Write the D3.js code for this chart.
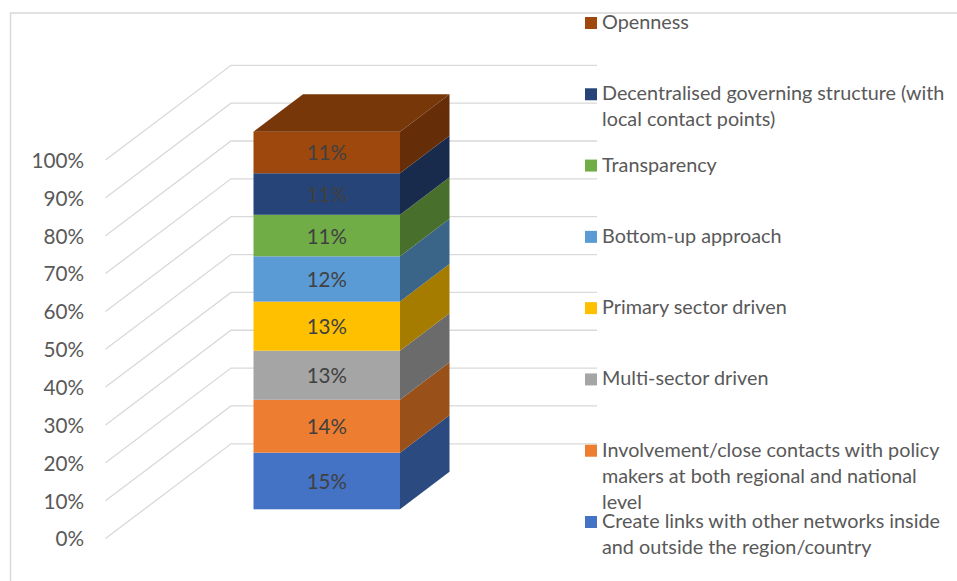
<!DOCTYPE html>
<html>
<head>
<meta charset="utf-8">
<script src="https://cdn.jsdelivr.net/npm/d3@7/dist/d3.min.js"></script>
<style>
html,body{margin:0;padding:0;background:#fff;overflow:hidden}
svg{display:block}
text{font-family:Lato,"Open Sans",sans-serif}
</style>
</head>
<body>
<div id="chart"></div>
<script>
// values bottom to top
var names=["Create links","Involvement","Multi-sector","Primary sector","Bottom-up","Transparency","Decentralised","Openness"];
var values=[15,14,13,13,12,11,11,11];
var front=["#4472c4","#ed7d31","#a5a5a5","#ffc000","#5b9bd5","#70ad47","#264478","#9e480e"];
var side=["#2a4a80","#9a5119","#6b6b6b","#a67c00","#3b6489","#486f2c","#182b4d","#652e08"];
var topColor="#773709";
var ticks=[0,10,20,30,40,50,60,70,80,90,100];
// legend text, top to bottom
var legendLines=[
  ["Openness"],
  ["Decentralised governing structure (with","local contact points)"],
  ["Transparency"],
  ["Bottom-up approach"],
  ["Primary sector driven"],
  ["Multi-sector driven"],
  ["Involvement/close contacts with policy","makers at both regional and national","level"],
  ["Create links with other networks inside","and outside the region/country"]
];
var legendColors=front.slice().reverse();

var width=957,height=581;
var svg=d3.select("#chart").append("svg").attr("width",width).attr("height",height);

// frame, only left and top show
svg.append("path")
  .attr("d","M10.5,581V13H957")
  .attr("fill","none").attr("stroke","#d9d9d9").attr("stroke-width",1.5);

// walls of the chart
var yAxis=d3.scaleLinear().domain([0,100]).range([538.5,160]);
var wallX=105.5,wallDx=125.5,wallDy=-94.7,wallEnd=597;

svg.append("g").selectAll("path")
  .data(ticks)
  .enter().append("path")
  .attr("d",function(d){
    var y=yAxis(d);
    return "M"+wallX+","+y+"L"+(wallX+wallDx)+","+(y+wallDy)+"H"+wallEnd;
  })
  .attr("fill","none").attr("stroke","#d9d9d9").attr("stroke-width",1.3);

var axis=d3.axisLeft(yAxis).tickValues(ticks).tickSize(0).tickPadding(0)
  .tickFormat(function(d){return d+"%";});
var gAxis=svg.append("g").attr("transform","translate(84,0.8)").call(axis);
gAxis.select(".domain").remove();
gAxis.selectAll("text").style("font-family","Lato").style("font-size","20.7px").attr("fill","#595959");

// stacked bar
var table=[{}];
names.forEach(function(n,i){table[0][n]=values[i];});
var series=d3.stack().keys(names)(table);

var yBar=d3.scaleLinear().domain([0,100]).range([509.3,131.7]);
var x0=253.5,x1=400,barDx=49.5,barDy=-37.5;

var bars=svg.append("g").selectAll("g").data(series).enter().append("g");

bars.append("rect")
  .attr("x",x0).attr("width",x1-x0)
  .attr("y",function(d){return yBar(d[0][1]);})
  .attr("height",function(d){return yBar(d[0][0])-yBar(d[0][1]);})
  .attr("fill",function(d,i){return front[i];});

bars.append("path")
  .attr("d",function(d){
    var a=yBar(d[0][0]),b=yBar(d[0][1]);
    return "M"+x1+","+a+"L"+(x1+barDx)+","+(a+barDy)+"V"+(b+barDy)+"L"+x1+","+b+"Z";
  })
  .attr("fill",function(d,i){return side[i];});

svg.append("path")
  .attr("d","M"+x0+","+yBar(100)+"L"+(x0+barDx)+","+(yBar(100)+barDy)+"H"+(x1+barDx)+"L"+x1+","+yBar(100)+"Z")
  .attr("fill",topColor);

bars.append("text")
  .attr("x",(x0+x1)/2)
  .attr("y",function(d){return (yBar(d[0][0])+yBar(d[0][1]))/2+0.8;})
  .attr("dy","0.35em")
  .attr("text-anchor","middle")
  .attr("fill","#404040")
  .style("font-size","20.5px")
  .text(function(d,i){return values[i]+"%";});

// legend
var yLegend=d3.scalePoint().domain(d3.range(legendLines.length)).range([23,522]);
var items=svg.append("g").selectAll("g").data(legendLines).enter().append("g")
  .attr("transform",function(d,i){return "translate(585,"+yLegend(i)+")";});

items.append("rect")
  .attr("x",0).attr("y",-6).attr("width",12).attr("height",12)
  .attr("fill",function(d,i){return legendColors[i];});

items.append("text")
  .attr("fill","#595959")
  .style("font-size","19.8px")
  .selectAll("tspan").data(function(d){return d;})
  .enter().append("tspan")
  .attr("x",17)
  .attr("y",function(d,i){return i*26-1;})
  .attr("dy","0.35em")
  .text(function(d){return d;});
</script>
</body>
</html>
